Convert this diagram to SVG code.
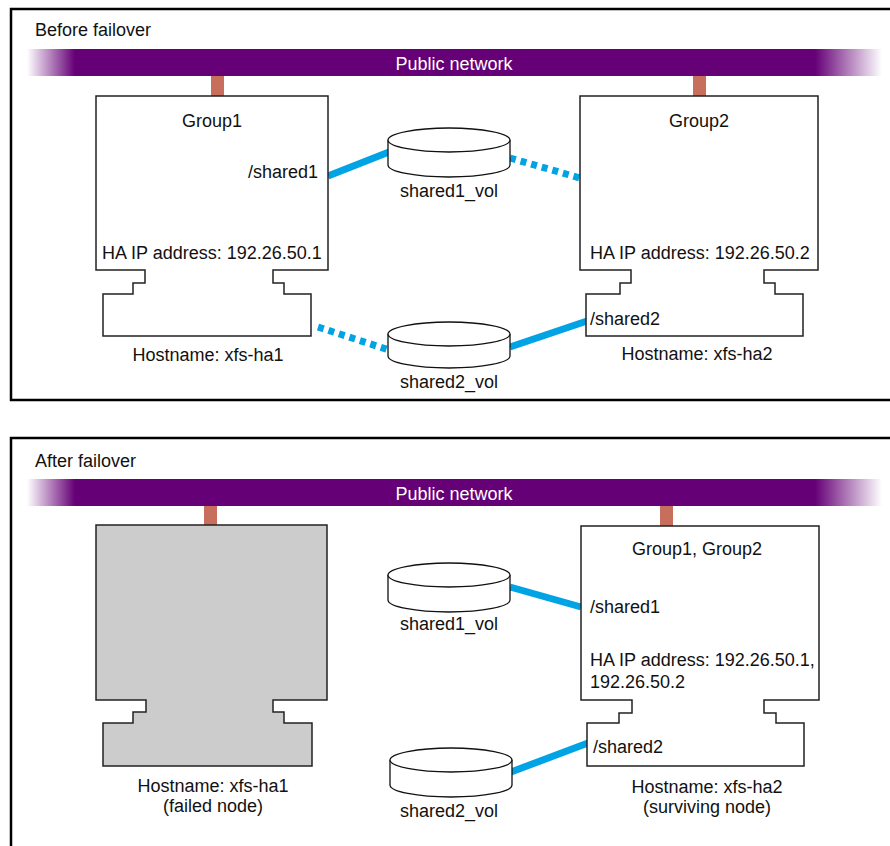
<svg xmlns="http://www.w3.org/2000/svg" width="890" height="846" viewBox="0 0 890 846">
<defs>
<linearGradient id="netgrad" gradientUnits="userSpaceOnUse" x1="27" y1="0" x2="882" y2="0">
<stop offset="0" stop-color="#660077" stop-opacity="0"/>
<stop offset="0.056" stop-color="#660077" stop-opacity="1"/>
<stop offset="0.9216" stop-color="#660077" stop-opacity="1"/>
<stop offset="1" stop-color="#660077" stop-opacity="0"/>
</linearGradient>
</defs>
<style>
text{font-family:"Liberation Sans",Arial,sans-serif;font-size:18px;fill:#111}
.c{text-anchor:middle}
.net{fill:#fff}
.frame{fill:none;stroke:#000;stroke-width:2.5}
.bar{fill:url(#netgrad)}
.stub{fill:#c86e5c}
.node{fill:#fff;stroke:#222;stroke-width:1.5}
.failed{fill:#cccccc;stroke:#222;stroke-width:1.5}
.disk{fill:#fff;stroke:#111;stroke-width:1.3}
.link{stroke:#00a3e3;stroke-width:7;fill:none}
.dash{stroke-dasharray:6,5}
</style>
<rect width="890" height="846" fill="#fff"/>

<!-- Top panel -->
<g id="panel-before">
<path class="frame" d="M892,9 H11 V400 H892"/>
<text x="35" y="36">Before failover</text>
</g>
<g id="network-before">
<rect class="bar" x="27" y="49" width="855" height="27"/>
<text class="c net" x="454" y="70">Public network</text>
<rect class="stub" x="211" y="76" width="13" height="20"/>
<rect class="stub" x="693" y="76" width="13" height="20"/>
</g>

<g id="connectors-before">
<line class="link" x1="328" y1="176" x2="389" y2="152"/>
<line class="link dash" x1="510" y1="158" x2="580" y2="178"/>
<line class="link dash" x1="318" y1="327" x2="389" y2="350"/>
<line class="link" x1="510" y1="347" x2="587" y2="321"/>
</g>

<g id="node-group1">
<path class="node" d="M96,96 H328 V270 H273 V283 H284 V294 H311 V336 H103 V294 H133 V283 H145 V270 H96 Z"/>
<text class="c" x="212" y="127">Group1</text>
<text x="318" y="178" text-anchor="end">/shared1</text>
<text x="102" y="259">HA IP address: 192.26.50.1</text>
<text class="c" x="208" y="361">Hostname: xfs-ha1</text>
</g>

<g id="node-group2">
<path class="node" d="M580,96 H818 V270 H764 V283 H775 V294 H803 V336 H586 V294 H620 V283 H631 V270 H580 Z"/>
<text class="c" x="699" y="127">Group2</text>
<text x="590" y="259">HA IP address: 192.26.50.2</text>
<text x="590" y="325">/shared2</text>
<text class="c" x="697" y="360">Hostname: xfs-ha2</text>
</g>

<g id="disk-shared1-before">
<path class="disk" d="M388,140 V165 A61,12 0 0 0 510,165 V140"/>
<ellipse class="disk" cx="449" cy="140" rx="61" ry="12"/>
<text class="c" x="449" y="197">shared1_vol</text>
</g>

<g id="disk-shared2-before">
<path class="disk" d="M388,334 V356 A61,12 0 0 0 510,356 V334"/>
<ellipse class="disk" cx="449" cy="334" rx="61" ry="12"/>
<text class="c" x="449" y="388">shared2_vol</text>
</g>

<!-- Bottom panel -->
<g id="panel-after">
<path class="frame" d="M892,438 H11 V848"/>
<text x="35" y="467">After failover</text>
</g>
<g id="network-after">
<rect class="bar" x="27" y="479" width="855" height="27"/>
<text class="c net" x="454" y="500">Public network</text>
<rect class="stub" x="204" y="506" width="13" height="19"/>
<rect class="stub" x="660" y="506" width="13" height="20"/>
</g>

<g id="connectors-after">
<line class="link" x1="510" y1="587" x2="581" y2="607"/>
<line class="link" x1="511" y1="772" x2="588" y2="743"/>
</g>

<g id="node-failed">
<path class="failed" d="M96,525 H327 V700 H273 V712 H284 V723 H312 V766 H103 V723 H133 V712 H146 V700 H96 Z"/>
<text class="c" x="213" y="792">Hostname: xfs-ha1</text>
<text class="c" x="213" y="812">(failed node)</text>
</g>

<g id="node-surviving">
<path class="node" d="M581,526 H819 V700 H764 V713 H776 V723 H804 V766 H587 V723 H619 V713 H632 V700 H581 Z"/>
<text class="c" x="697" y="555">Group1, Group2</text>
<text x="590" y="613">/shared1</text>
<text x="590" y="666">HA IP address: 192.26.50.1,</text>
<text x="590" y="688">192.26.50.2</text>
<text x="593" y="753">/shared2</text>
<text class="c" x="707" y="793">Hostname: xfs-ha2</text>
<text class="c" x="707" y="813">(surviving node)</text>
</g>

<g id="disk-shared1-after">
<path class="disk" d="M388,575 V600 A61,12 0 0 0 510,600 V575"/>
<ellipse class="disk" cx="449" cy="575" rx="61" ry="12"/>
<text class="c" x="449" y="630">shared1_vol</text>
</g>

<g id="disk-shared2-after">
<path class="disk" d="M390,760 V785 A61,12 0 0 0 512,785 V760"/>
<ellipse class="disk" cx="451" cy="760" rx="61" ry="12"/>
<text class="c" x="449" y="817">shared2_vol</text>
</g>
</svg>
